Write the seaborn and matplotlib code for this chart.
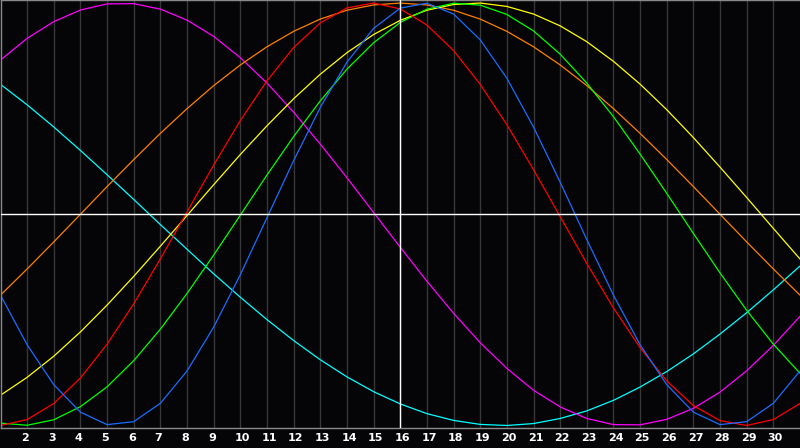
import numpy as np
import pandas as pd
import matplotlib
matplotlib.use('Agg')
import matplotlib.pyplot as plt
import matplotlib.transforms as mtransforms
import seaborn as sns

# Days shown on the chart
days = list(range(1, 32))

# Cycle values per day (-1 .. 1)
red = [-1.000, -0.972, -0.896, -0.775, -0.615, -0.424, -0.211, 0.011, 0.233, 0.444,
       0.632, 0.789, 0.906, 0.977, 1.000, 0.972, 0.896, 0.775, 0.615, 0.424,
       0.211, -0.011, -0.233, -0.444, -0.632, -0.789, -0.906, -0.977, -1.000, -0.972,
       -0.896]
green = [-0.989, -0.999, -0.973, -0.911, -0.817, -0.693, -0.544, -0.375, -0.193, -0.004,
         0.186, 0.368, 0.537, 0.687, 0.812, 0.908, 0.971, 0.999, 0.990, 0.946,
         0.868, 0.758, 0.621, 0.462, 0.285, 0.099, -0.091, -0.278, -0.455, -0.615,
         -0.753]
blue = [-0.383, -0.618, -0.807, -0.937, -0.996, -0.982, -0.895, -0.742, -0.534, -0.286,
        -0.016, 0.254, 0.506, 0.720, 0.880, 0.976, 0.999, 0.948, 0.826, 0.644,
        0.413, 0.152, -0.120, -0.383, -0.618, -0.807, -0.937, -0.996, -0.982, -0.895,
        -0.742]
yellow = [-0.857, -0.772, -0.672, -0.557, -0.430, -0.294, -0.151, -0.006, 0.140, 0.283,
          0.419, 0.547, 0.663, 0.765, 0.851, 0.918, 0.966, 0.993, 1.000, 0.984,
          0.948, 0.892, 0.817, 0.724, 0.616, 0.495, 0.363, 0.223, 0.079, -0.067,
          -0.212]
cyan = [0.615, 0.518, 0.413, 0.302, 0.187, 0.070, -0.049, -0.166, -0.282, -0.393,
        -0.499, -0.598, -0.689, -0.770, -0.840, -0.898, -0.944, -0.976, -0.995, -1.000,
        -0.991, -0.967, -0.931, -0.881, -0.818, -0.745, -0.661, -0.567, -0.466, -0.358,
        -0.245]
magenta = [0.730, 0.833, 0.912, 0.967, 0.996, 0.997, 0.971, 0.919, 0.842, 0.741,
           0.621, 0.483, 0.332, 0.173, 0.008, -0.156, -0.317, -0.469, -0.608, -0.730,
           -0.833, -0.912, -0.967, -0.996, -0.997, -0.971, -0.919, -0.842, -0.741, -0.621,
           -0.483]
orange = [-0.383, -0.259, -0.131, 0.000, 0.131, 0.259, 0.383, 0.500, 0.609, 0.707,
          0.793, 0.866, 0.924, 0.966, 0.991, 1.000, 0.991, 0.966, 0.924, 0.866,
          0.793, 0.707, 0.609, 0.500, 0.383, 0.259, 0.131, 0.000, -0.131, -0.259,
          -0.383]

today = 16
tick_days = list(range(2, 31))
tick_labels = [str(d) for d in tick_days]

series = {'cyan': cyan, 'magenta': magenta, 'orange': orange, 'yellow': yellow,
          'green': green, 'red': red, 'blue': blue}
palette = {'cyan': '#00ffff', 'magenta': '#ff00ff', 'orange': '#ff7f00',
           'yellow': '#ffff00', 'green': '#00ff00', 'red': '#ff0000', 'blue': '#1a6cff'}

df = pd.concat([pd.DataFrame({'day': days, 'value': v, 'cycle': k})
                for k, v in series.items()], ignore_index=True)

# Style
bg = '#050508'
sns.set_style('dark')
plt.rcParams['font.family'] = ['DejaVu Sans']

fig = plt.figure(figsize=(8, 4.48), dpi=100, facecolor=bg)
ax = fig.add_axes([0.5 / 800, 20 / 448, 1 - 0.5 / 800, 428 / 448 - 0.5 / 448])
ax.set_facecolor(bg)

# day grid
for d in tick_days:
    ax.axvline(d, color='#383838', lw=1.0, zorder=0)

sns.lineplot(data=df, x='day', y='value', hue='cycle', palette=palette,
             estimator=None, sort=False, lw=0.9, legend=False, ax=ax, zorder=2)

# zero line and today marker
ax.axhline(0, color='white', lw=1.0, zorder=3)
ax.axvline(today, color='white', lw=1.0, zorder=3)

ax.set_xlim(1, 31)
ax.set_ylim(-1.012, 1.012)
ax.set_yticks([])
ax.set_xticks(tick_days)
ax.set_xticklabels(tick_labels, color='white', fontsize=8, fontweight='bold')
ax.tick_params(axis='x', length=0, pad=3.5)
shift = mtransforms.ScaledTranslation(-5.7 / 100, 0, fig.dpi_scale_trans)
for lab in ax.get_xticklabels():
    lab.set_ha('left')
    lab.set_transform(lab.get_transform() + shift)
ax.set_xlabel('')
ax.set_ylabel('')
ax.grid(False)

for side in ['left', 'top', 'bottom']:
    ax.spines[side].set_visible(True)
    ax.spines[side].set_color('#8a8a8a')
    ax.spines[side].set_linewidth(1.0)
ax.spines['right'].set_visible(False)

plt.savefig('out.png', dpi=100, facecolor=bg)
plt.close()
